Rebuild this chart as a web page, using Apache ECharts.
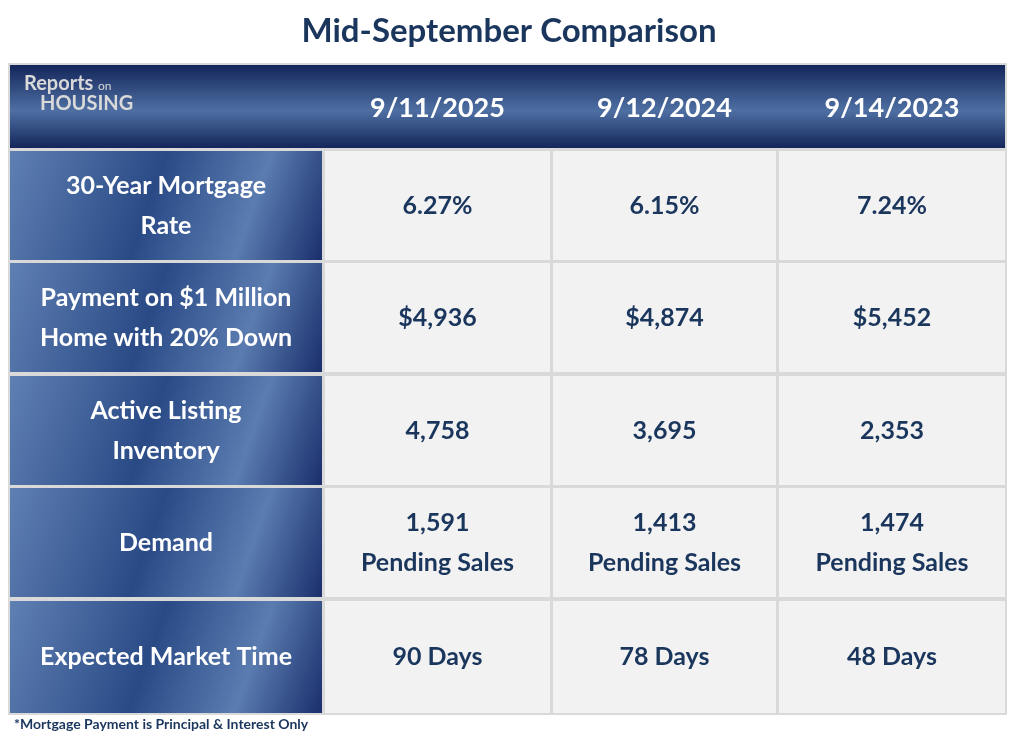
<!DOCTYPE html>
<html><head><meta charset="utf-8">
<script src="https://cdn.jsdelivr.net/npm/echarts@6/dist/echarts.min.js"></script>
<style>html,body{margin:0;padding:0;background:#fff}#c{width:1018px;height:734px}</style>
</head><body><div id="c"></div>
<script>
const title = "Mid-September Comparison";
const dates = ["9/11/2025", "9/12/2024", "9/14/2023"];
const rowLabels = ["30-Year Mortgage\nRate", "Payment on $1 Million\nHome with 20% Down", "Active Listing\nInventory", "Demand", "Expected Market Time"];
const mortgageRate = ["6.27%", "6.15%", "7.24%"];
const payment = ["$4,936", "$4,874", "$5,452"];
const inventory = ["4,758", "3,695", "2,353"];
const demand = ["1,591\nPending Sales", "1,413\nPending Sales", "1,474\nPending Sales"];
const marketTime = ["90 Days", "78 Days", "48 Days"];
const footnote = "*Mortgage Payment is Principal & Interest Only";

const rows = [mortgageRate, payment, inventory, demand, marketTime];
const FONT = "Lato, 'Open Sans', sans-serif";
const NAVY = "#1b365d";
const colX = [10, 325, 553, 779], colW = [312, 225, 223, 226];
const rowY = [151, 263, 376, 488, 601], rowH = [109, 109, 109, 109, 112];
const els = [];
els.push({type:"rect", shape:{x:8,y:63,width:999,height:652}, style:{fill:"#d9d9d9"}});
els.push({type:"rect", shape:{x:10,y:65,width:995,height:83}, style:{fill:new echarts.graphic.LinearGradient(0,0,0,1,[{offset:0,color:"#14265a"},{offset:0.55,color:"#4e6fa3"},{offset:1,color:"#14265a"}])}});
els.push({type:"text", x:24, y:74, style:{text:"Reports", font:"bold 20px "+FONT, fill:"#d9d9d9"}});
els.push({type:"text", x:98, y:80, style:{text:"on", font:"12px "+FONT, fill:"#d9d9d9"}});
els.push({type:"text", x:40, y:94, style:{text:"HOUSING", font:"bold 20px "+FONT, fill:"#d9d9d9"}});
dates.forEach((d,i)=>els.push({type:"text", x:colX[i+1]+colW[i+1]/2, y:108, style:{text:d, font:"bold 27px "+FONT, fill:"#fff", align:"center", verticalAlign:"middle"}}));
rowLabels.forEach((l,r)=>{
  els.push({type:"rect", shape:{x:colX[0],y:rowY[r],width:colW[0],height:rowH[r]}, style:{fill:new echarts.graphic.LinearGradient(0,0,1,1,[{offset:0,color:"#5f80b3"},{offset:0.45,color:"#2a4a86"},{offset:0.75,color:"#5a7cb0"},{offset:1,color:"#1a2f6c"}])}});
  els.push({type:"text", x:colX[0]+colW[0]/2, y:rowY[r]+rowH[r]/2, style:{text:l, font:"bold 25px "+FONT, fill:"#fff", align:"center", verticalAlign:"middle", lineHeight:40}});
  rows[r].forEach((v,c)=>{
    els.push({type:"rect", shape:{x:colX[c+1],y:rowY[r],width:colW[c+1],height:rowH[r]}, style:{fill:"#f2f2f2"}});
    els.push({type:"text", x:colX[c+1]+colW[c+1]/2, y:rowY[r]+rowH[r]/2, style:{text:v, font:"bold 25px "+FONT, fill:NAVY, align:"center", verticalAlign:"middle", lineHeight:40}});
  });
});
els.push({type:"text", x:14, y:717, style:{text:footnote, font:"bold 14px "+FONT, fill:NAVY}});
const chart = echarts.init(document.getElementById("c"));
chart.setOption({
  title:{text:title, left:"center", top:10, textStyle:{fontFamily:FONT, fontWeight:"bold", fontSize:33, color:NAVY}},
  graphic:{elements:els}
});
</script></body></html>
